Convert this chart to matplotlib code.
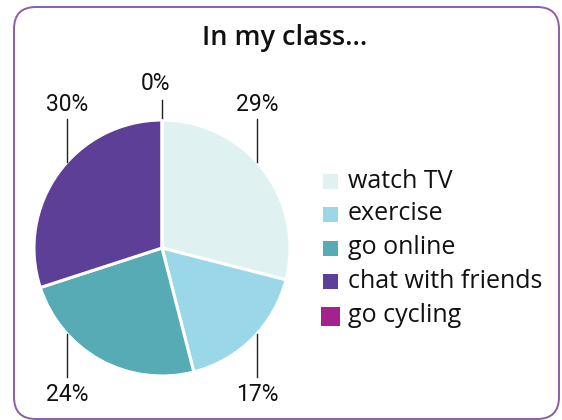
"""Pie chart of what pupils in the class do in their free time."""

import matplotlib.pyplot as plt
import numpy as np
from matplotlib.patches import FancyBboxPatch, Rectangle

activities = ["watch TV", "exercise", "go online", "chat with friends", "go cycling"]
shares = [29, 17, 24, 30, 0]
colours = ["#E0F1F2", "#9AD8E9", "#56ABB5", "#5E3F98", "#A4228F"]

# Fixed label directions (degrees clockwise from 12 o'clock)
label_angles = [48, 132, 228, 312, 0]

W, H = 562, 420


def main() -> None:
    fig = plt.figure(figsize=(W / 100, H / 100), dpi=100)
    ax = fig.add_axes([0, 0, 1, 1])
    ax.set_xlim(0, W)
    ax.set_ylim(0, H)
    ax.set_aspect("equal")
    ax.axis("off")

    # rounded frame
    frame = FancyBboxPatch((14, H - 419), 545, 412,
                           boxstyle="round,pad=0,rounding_size=22",
                           fill=False, edgecolor="#8C5DA8", linewidth=1.4)
    ax.add_patch(frame)

    ax.text(285, H - 38, "In my class…", ha="center", va="center",
            fontsize=19.5, family="Open Sans", fontweight="semibold",
            color="#111111")

    cx, cy, r = 162, H - 248, 128
    ax.pie(shares, colors=colours, startangle=90, counterclock=False,
           center=(cx, cy), radius=r,
           wedgeprops=dict(edgecolor="white", linewidth=2.2))
    ax.set_xlim(0, W)
    ax.set_ylim(0, H)

    pct_font = dict(fontsize=16.5, family="Roboto", color="#111111")
    for value, ang in zip(shares, label_angles):
        t = np.deg2rad(ang)
        ex, ey = cx + r * np.sin(t), cy + r * np.cos(t)
        if value == 0:
            ex, ey = cx, cy + r + 2
            ax.plot([ex, ex], [ey, ey + 18], color="#222222", lw=1)
            ax.text(ex - 6, ey + 34, f"{value}%", ha="center", va="center",
                    **pct_font)
            continue
        up = ey > cy
        end = ey + 43 * (1 if up else -1)
        ax.plot([ex, ex], [ey, end], color="#222222", lw=1)
        ty = end + 15 * (1 if up else -1) + (0 if up else -3)
        ax.text(ex, ty, f"{value}%", ha="center", va="center", **pct_font)

    # legend
    row_y = [181, 214, 248, 281, 316]
    for i, (name, col) in enumerate(zip(activities, colours)):
        y = H - row_y[i]
        last = i == len(activities) - 1
        size = 19 if last else 15
        x0 = 321 if last else 323
        ax.add_patch(Rectangle((x0, y - size / 2), size, size, facecolor=col,
                               edgecolor="none"))
        ax.text(348, y, name, ha="left", va="center", fontsize=18,
                family="Open Sans", color="#111111")

    fig.savefig("out.png", dpi=100)
    plt.close(fig)


if __name__ == "__main__":
    main()
